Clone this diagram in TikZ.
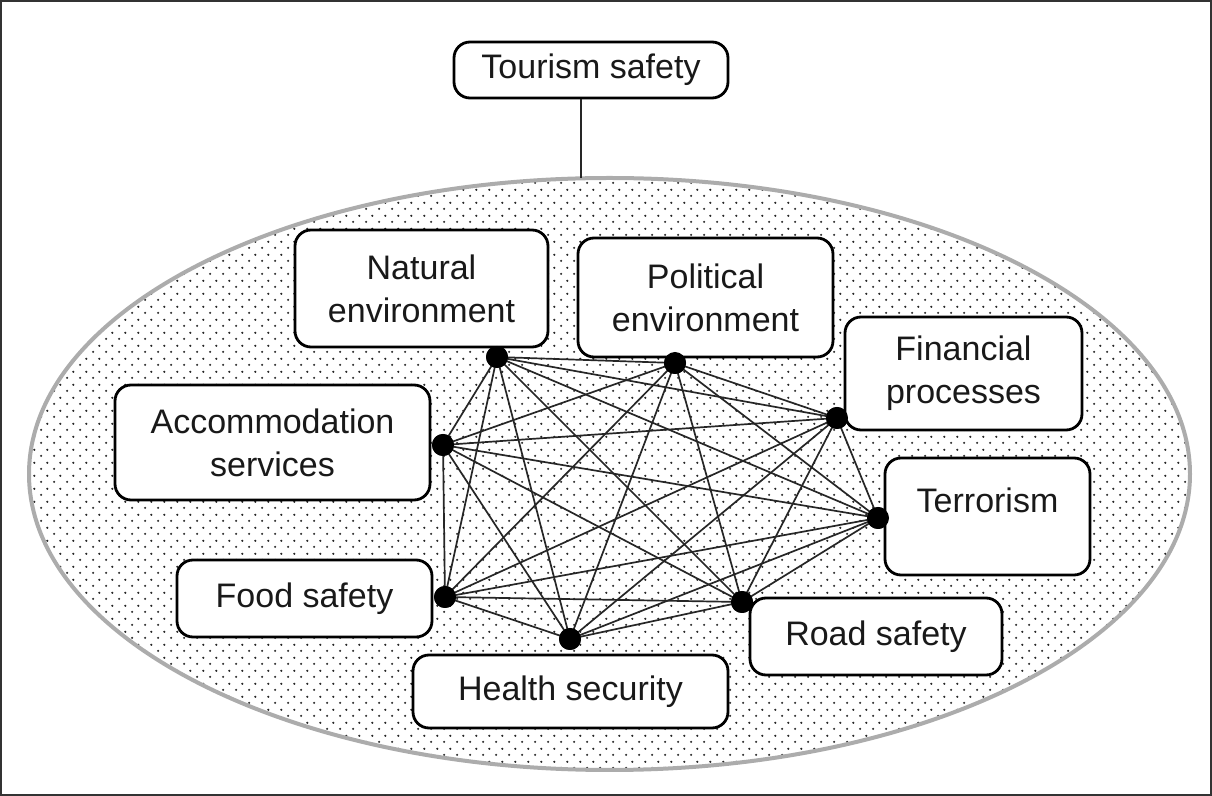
\documentclass[tikz,border=0pt]{standalone}
\usepackage{fontspec}
\setmainfont{Liberation Sans}
\usetikzlibrary{patterns}
\pgfdeclarepatternformonly{mydots}{\pgfqpoint{0pt}{0pt}}{\pgfqpoint{6.35pt}{6.3pt}}{\pgfqpoint{6.35pt}{6.3pt}}{%
  \pgfpathcircle{\pgfqpoint{1.6pt}{1.6pt}}{0.6pt}%
  \pgfpathcircle{\pgfqpoint{4.775pt}{4.75pt}}{0.6pt}%
  \pgfusepath{fill}}
\tikzset{
  box/.style={draw=black, line width=1.4pt, rounded corners=8pt, fill=white,
    align=center, inner sep=0pt, font=\fontsize{17}{21.5}\selectfont, text=black!90},
  jdot/.style={circle, fill=black, inner sep=0pt, minimum size=11pt},
  link/.style={draw=black!85, line width=0.85pt},
}
\begin{document}
\begin{tikzpicture}[x=0.5pt,y=-0.5pt]
\useasboundingbox (0,0) rectangle (1212,796);
\draw[line width=1pt, black!80] (1,1) rectangle (1211,795);
% ellipse
\fill[white] (609.5,474) ellipse [x radius=290.25pt, y radius=148pt];
\fill[pattern=mydots, pattern color=black!85] (609.5,474) ellipse [x radius=290.25pt, y radius=148pt];
\draw[gray!65, line width=2pt] (609.5,474) ellipse [x radius=290.25pt, y radius=148pt];
% top node
\node[box, minimum width=137pt, minimum height=28pt] (ts) at (591,70) {Tourism safety};
\coordinate (etop) at (581,178.5);
\draw[link] (ts.south -| etop) -- (etop);
% junction dots
\node[jdot] (dN) at (497,357) {};
\node[jdot] (dP) at (675,363) {};
\node[jdot] (dF) at (837,418) {};
\node[jdot] (dT) at (878,518) {};
\node[jdot] (dR) at (742,602) {};
\node[jdot] (dH) at (570,639) {};
\node[jdot] (dD) at (445,597) {};
\node[jdot] (dA) at (443,445) {};
% complete graph
\foreach \a/\rest in {dN/{dP,dF,dT,dR,dH,dD,dA}, dP/{dF,dT,dR,dH,dD,dA}, dF/{dT,dR,dH,dD,dA}, dT/{dR,dH,dD,dA}, dR/{dH,dD,dA}, dH/{dD,dA}, dD/{dA}}{
  \foreach \b in \rest { \draw[link] (\a.center) -- (\b.center); }
}
% boxes
\node[box, minimum width=126.5pt, minimum height=58.5pt] (nat) at (421.5,288.5) {Natural\\environment};
\node[box, minimum width=127.5pt, minimum height=59.5pt] (pol) at (705.5,297.5) {Political\\environment};
\node[box, minimum width=118.5pt, minimum height=56.5pt] (fin) at (963.5,373.5) {Financial\\processes};
\node[box, minimum width=102.5pt, minimum height=58.5pt, text height=12pt, text depth=16pt] (ter) at (987.5,516.5) {Terrorism};
\node[box, minimum width=126pt, minimum height=38.5pt] (road) at (876,636.5) {Road safety};
\node[box, minimum width=157.5pt, minimum height=36.5pt] (hea) at (570.5,691.5) {Health security};
\node[box, minimum width=127.5pt, minimum height=38.5pt] (food) at (304.5,598.5) {Food safety};
\node[box, minimum width=157.5pt, minimum height=57.5pt] (acc) at (272.5,442.5) {Accommodation\\services};
% dots on top of the box borders
\foreach \d in {dN,dP,dF,dT,dR,dH,dD,dA}{
  \fill[black] (\d.center) circle [radius=5.5pt];
}
\end{tikzpicture}
\end{document}
